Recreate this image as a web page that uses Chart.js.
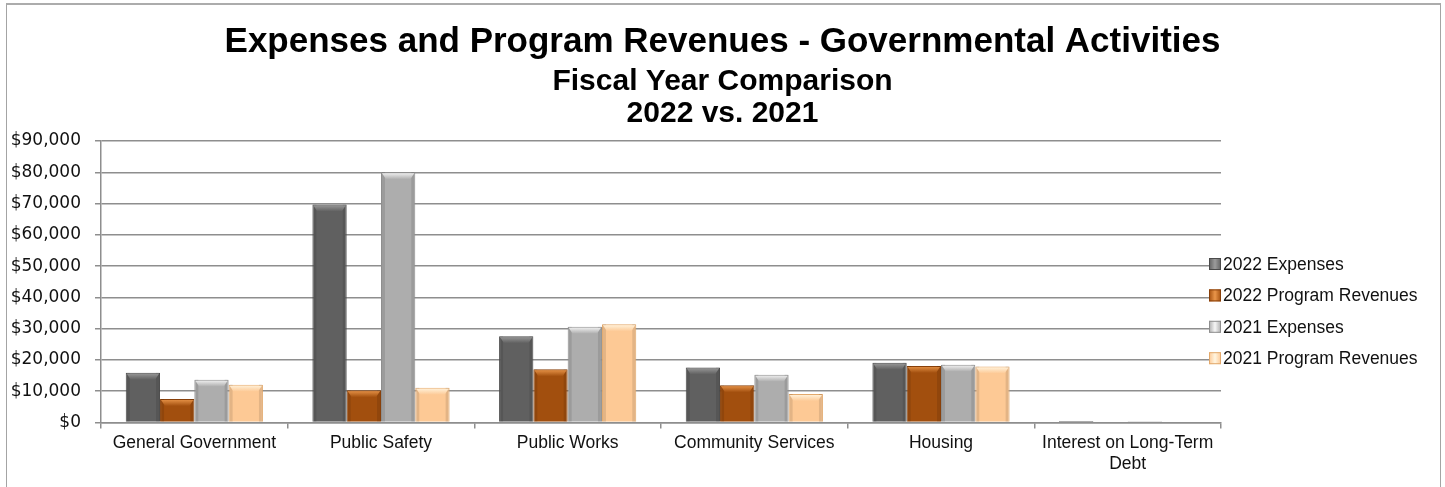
<!DOCTYPE html>
<html>
<head>
<meta charset="utf-8">
<title>Expenses and Program Revenues</title>
<script src="https://cdn.jsdelivr.net/npm/chart.js@4.4.1/dist/chart.umd.min.js"></script>
<style>
  html, body { margin: 0; padding: 0; background: #fff; overflow: hidden; }
  #wrap { position: relative; width: 1445px; height: 487px; }
  #frame {
    position: absolute; left: 6px; top: 3px; width: 1433px; height: 600px;
    border: 1px solid #a4a4a4; border-top: 2px solid #acacac;
    pointer-events: none;
  }
</style>
</head>
<body>
<div id="wrap">
  <canvas id="govChart" width="1445" height="487"></canvas>
  <div id="frame"></div>
</div>
<script>
// categories and series (in dollars, thousands shown as-is)
const categories = [
  "General Government",
  "Public Safety",
  "Public Works",
  "Community Services",
  "Housing",
  ["Interest on Long-Term", "Debt"],
];
const seriesNames = ["2022 Expenses", "2022 Program Revenues", "2021 Expenses", "2021 Program Revenues"];
const expenses2022 = [15900, 69700, 27600, 17600, 19100, 500];
const revenues2022 = [7500, 10300, 17000, 11900, 18100, 0];
const expenses2021 = [13700, 80000, 30600, 15300, 18500, 400];
const revenues2021 = [12100, 11100, 31400, 9100, 17900, 0];
const yTickValues = [0, 10000, 20000, 30000, 40000, 50000, 60000, 70000, 80000, 90000];
const yTickLabels = ["$0", "$10,000", "$20,000", "$30,000", "$40,000", "$50,000", "$60,000", "$70,000", "$80,000", "$90,000"];

// fill / outline / bevel highlight per series
const palette = [
  { fill: "#606060", border: "#4b4b4b", light: "#9c9c9c" },
  { fill: "#a24f0e", border: "#88400a", light: "#ea964a" },
  { fill: "#adadad", border: "#8e8e8e", light: "#f6f6f6" },
  { fill: "#fdc995", border: "#e2a86b", light: "#fff5e0" },
];

const gridColor = "#8e8e8e";
const ARIAL = "'Liberation Sans', Arial, sans-serif";

// bevelled look: darker sides and a light sloped top face on every bar
const bevelBars = {
  id: "bevelBars",
  afterDatasetsDraw(chart) {
    const ctx = chart.ctx;
    ctx.save();
    chart.data.datasets.forEach((ds, di) => {
      const meta = chart.getDatasetMeta(di);
      const pal = palette[di];
      meta.data.forEach((bar) => {
        const { x, y, base, width } = bar.getProps(["x", "y", "base", "width"], true);
        const h = base - y;
        if (h < 3) return;
        const l = x - width / 2, r = x + width / 2;
        ctx.fillStyle = "rgba(0,0,0,0.10)";
        ctx.fillRect(l + 1, y, 3, h);
        ctx.fillRect(r - 4, y, 3, h);
        const bh = Math.min(7, h / 2);
        const inset = Math.min(5, width / 4);
        const g = ctx.createLinearGradient(0, y, 0, y + bh);
        g.addColorStop(0, pal.light);
        g.addColorStop(1, pal.fill);
        ctx.fillStyle = g;
        ctx.beginPath();
        ctx.moveTo(l + 1, y + 1);
        ctx.lineTo(r - 1, y + 1);
        ctx.lineTo(r - inset, y + bh);
        ctx.lineTo(l + inset, y + bh);
        ctx.closePath();
        ctx.fill();
      });
    });
    ctx.restore();
  },
};

// legend column on the right, reserved as its own layout box
const sideLegend = {
  id: "sideLegend",
  beforeInit(chart) {
    const box = {
      position: "right",
      weight: 0,
      fullSize: false,
      options: {},
      width: 0, height: 0, left: 0, top: 0, right: 0, bottom: 0,
      isHorizontal() { return false; },
      update(maxWidth, maxHeight) { this.width = 224; this.height = maxHeight; },
      draw() {},
      _layers() {
        return [{ z: 1, draw: () => drawLegend(chart, box) }];
      },
    };
    Chart.layouts.addBox(chart, box);
  },
};

function drawLegend(chart, box) {
  const ctx = chart.ctx;
  ctx.save();
  ctx.font = "17.5px " + ARIAL;
  ctx.textBaseline = "middle";
  ctx.textAlign = "left";
  chart.data.datasets.forEach((ds, i) => {
    const cy = 264 + i * 31.4;
    const bx = box.left - 12;
    const pal = palette[i];
    const g = ctx.createLinearGradient(bx, 0, bx + 12, 0);
    g.addColorStop(0, pal.fill);
    g.addColorStop(0.5, pal.light);
    g.addColorStop(1, pal.fill);
    ctx.fillStyle = g;
    ctx.fillRect(bx, cy - 6, 12, 12);
    ctx.strokeStyle = pal.border;
    ctx.lineWidth = 1;
    ctx.strokeRect(bx + 0.5, cy - 5.5, 11, 11);
    ctx.fillStyle = "#111";
    ctx.fillText(ds.label, box.left + 2, cy + 1);
  });
  ctx.restore();
}

const seriesData = [expenses2022, revenues2022, expenses2021, revenues2021];

new Chart(document.getElementById("govChart"), {
  type: "bar",
  data: {
    labels: categories,
    datasets: seriesNames.map((name, i) => ({
      label: name,
      data: seriesData[i],
      backgroundColor: palette[i].fill,
      borderColor: palette[i].border,
      borderWidth: 1,
      categoryPercentage: 0.735,
      barPercentage: 1.0,
    })),
  },
  options: {
    responsive: false,
    animation: false,
    layout: { padding: { top: 21.5, left: 0, right: 0, bottom: 7.5 } },
    plugins: {
      legend: { display: false },
      tooltip: { enabled: false },
      title: {
        display: true,
        text: "Expenses and Program Revenues - Governmental Activities",
        color: "#000",
        font: { family: ARIAL, size: 35, weight: "bold", lineHeight: 1.2 },
        padding: { top: 0, bottom: 2.5 },
      },
      subtitle: {
        display: true,
        text: ["Fiscal Year Comparison", "2022 vs. 2021"],
        color: "#000",
        font: { family: ARIAL, size: 30, weight: "bold", lineHeight: 1.067 },
        padding: { top: 0, bottom: 11 },
      },
    },
    scales: {
      x: {
        grid: { offset: true, drawOnChartArea: false, drawTicks: true, tickLength: 6, color: gridColor, lineWidth: 1.5 },
        border: { color: gridColor, width: 1.5 },
        ticks: {
          autoSkip: false,
          maxRotation: 0,
          padding: 4.5,
          color: "#111",
          font: { family: ARIAL, size: 17.5 },
        },
      },
      y: {
        min: 0,
        max: 90000,
        afterFit(scale) { scale.width = 101; },
        grid: { color: gridColor, lineWidth: 1.5, tickLength: 6 },
        border: { color: gridColor, width: 1.5 },
        ticks: {
          stepSize: 10000,
          padding: 14,
          color: "#111",
          font: { family: "'DejaVu Sans', sans-serif", size: 17 },
          callback: (v) => yTickLabels[yTickValues.indexOf(v)],
        },
      },
    },
  },
  plugins: [bevelBars, sideLegend],
});
</script>
</body>
</html>
